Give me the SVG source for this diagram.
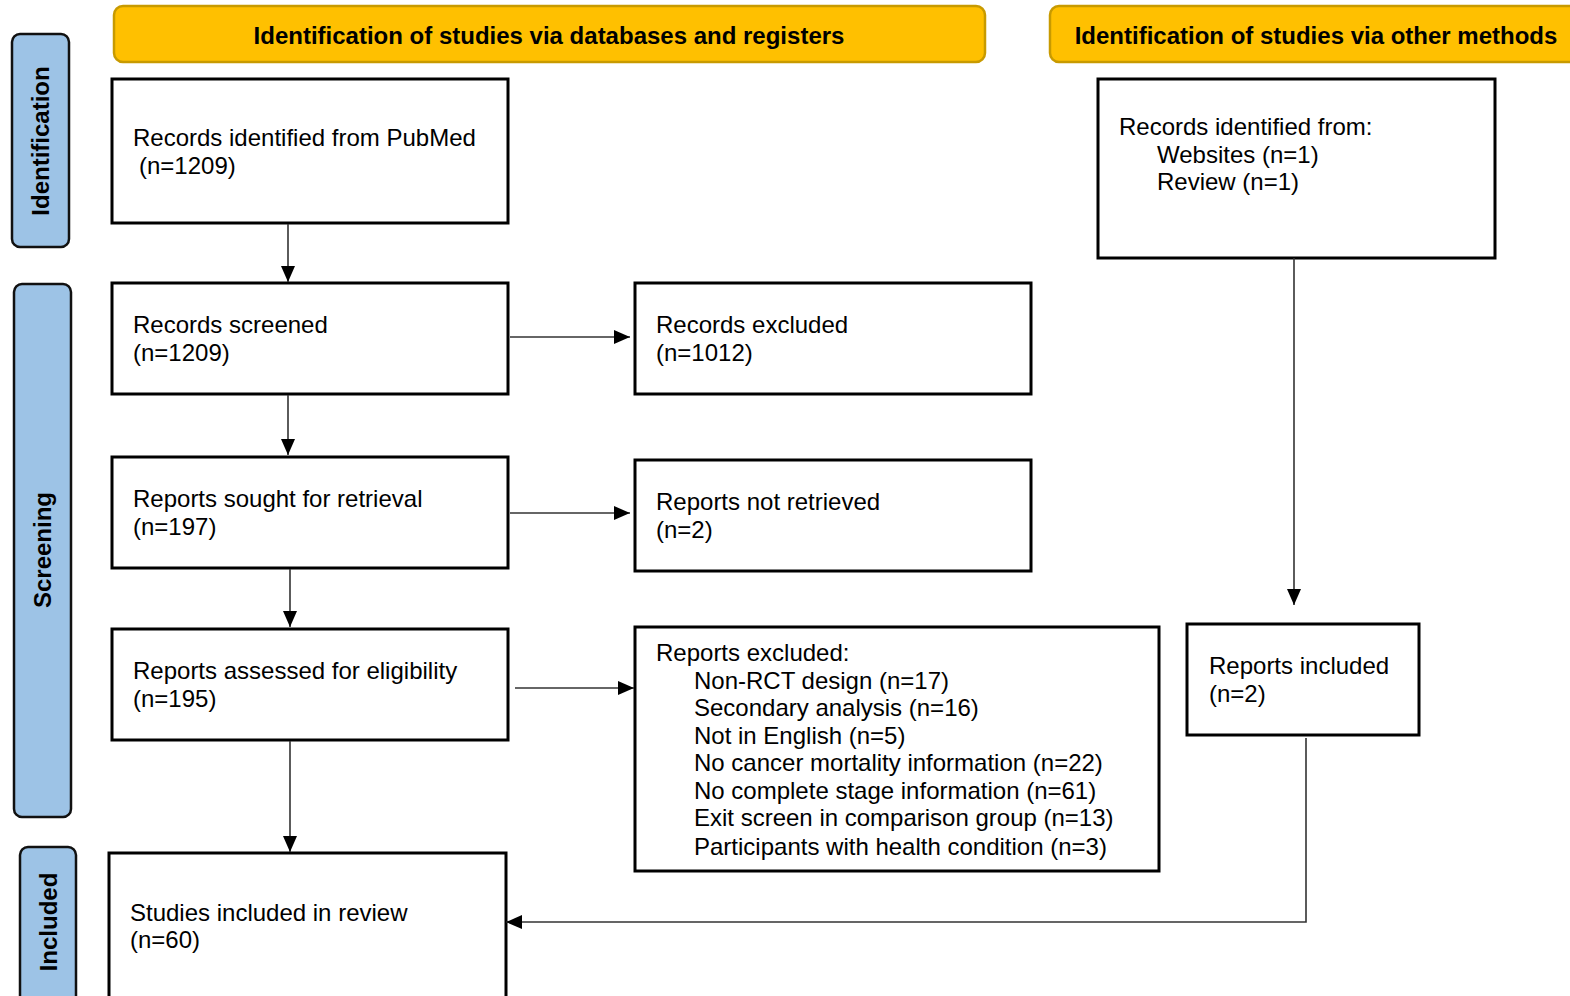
<svg xmlns="http://www.w3.org/2000/svg" width="1570" height="996" viewBox="0 0 1570 996">
<style>
.hdr{fill:#FFC000;stroke:#C89A00;stroke-width:2.5}
.side{fill:#9DC3E6;stroke:#111;stroke-width:2.5}
.box{fill:#fff;stroke:#000;stroke-width:3}
.t{font-family:"Liberation Sans",Arial,sans-serif;font-size:24px;fill:#000}
.b{font-family:"Liberation Sans",Arial,sans-serif;font-size:24px;font-weight:bold;fill:#000}
.c{fill:none;stroke:#333;stroke-width:1.6}
</style>
<defs>
<marker id="ah2" viewBox="0 0 16 14" refX="16" refY="7" markerWidth="16" markerHeight="14" markerUnits="userSpaceOnUse" orient="auto">
<path d="M0,0 L16,7 L0,14 z" fill="#000"/>
</marker>
</defs>
<rect width="1570" height="996" fill="#fff"/>
<g id="header-db"><rect class="hdr" x="114" y="6" width="871" height="56" rx="9"/><text class="b" x="549" y="44" text-anchor="middle">Identification of studies via databases and registers</text></g>
<g id="header-other"><rect class="hdr" x="1050" y="6" width="540" height="56" rx="9"/><text class="b" x="1316" y="44" text-anchor="middle">Identification of studies via other methods</text></g>
<g id="side-identification"><rect class="side" x="12" y="34" width="57" height="213" rx="8"/><text class="b" transform="translate(49,141) rotate(-90)" text-anchor="middle">Identification</text></g>
<g id="side-screening"><rect class="side" x="14" y="284" width="57" height="533" rx="8"/><text class="b" transform="translate(51,550) rotate(-90)" text-anchor="middle">Screening</text></g>
<g id="side-included"><rect class="side" x="20" y="847" width="56" height="160" rx="8"/><text class="b" transform="translate(57,922) rotate(-90)" text-anchor="middle">Included</text></g>

<g id="pubmed"><rect class="box" x="112" y="79" width="396" height="144"/><text class="t" x="133" y="146">Records identified from PubMed</text><text class="t" x="139" y="174">(n=1209)</text></g>
<g id="other"><rect class="box" x="1098" y="79" width="397" height="179"/><text class="t" x="1119" y="135">Records identified from:</text><text class="t" x="1157" y="163">Websites (n=1)</text><text class="t" x="1157" y="190">Review (n=1)</text></g>
<g id="screened"><rect class="box" x="112" y="283" width="396" height="111"/><text class="t" x="133" y="333">Records screened</text><text class="t" x="133" y="361">(n=1209)</text></g>
<g id="rec-excluded"><rect class="box" x="635" y="283" width="396" height="111"/><text class="t" x="656" y="333">Records excluded</text><text class="t" x="656" y="361">(n=1012)</text></g>
<g id="sought"><rect class="box" x="112" y="457" width="396" height="111"/><text class="t" x="133" y="507">Reports sought for retrieval</text><text class="t" x="133" y="535">(n=197)</text></g>
<g id="not-retrieved"><rect class="box" x="635" y="460" width="396" height="111"/><text class="t" x="656" y="510">Reports not retrieved</text><text class="t" x="656" y="538">(n=2)</text></g>
<g id="assessed"><rect class="box" x="112" y="629" width="396" height="111"/><text class="t" x="133" y="679">Reports assessed for eligibility</text><text class="t" x="133" y="707">(n=195)</text></g>
<g id="rep-excluded"><rect class="box" x="635" y="627" width="524" height="244"/>
<text class="t" x="656" y="661">Reports excluded:</text>
<text class="t" x="694" y="689">Non-RCT design (n=17)</text>
<text class="t" x="694" y="716">Secondary analysis (n=16)</text>
<text class="t" x="694" y="744">Not in English (n=5)</text>
<text class="t" x="694" y="771">No cancer mortality information (n=22)</text>
<text class="t" x="694" y="799">No complete stage information (n=61)</text>
<text class="t" x="694" y="826">Exit screen in comparison group (n=13)</text>
<text class="t" x="694" y="855">Participants with health condition (n=3)</text></g>
<g id="rep-included"><rect class="box" x="1187" y="624" width="232" height="111"/><text class="t" x="1209" y="674">Reports included</text><text class="t" x="1209" y="702">(n=2)</text></g>
<g id="studies"><rect class="box" x="109" y="853" width="397" height="160"/><text class="t" x="130" y="921">Studies included in review</text><text class="t" x="130" y="948">(n=60)</text></g>

<g id="connectors">
<line class="c" x1="288" y1="224" x2="288" y2="282" marker-end="url(#ah2)"/>
<line class="c" x1="288" y1="395" x2="288" y2="455" marker-end="url(#ah2)"/>
<line class="c" x1="290" y1="569" x2="290" y2="627" marker-end="url(#ah2)"/>
<line class="c" x1="290" y1="741" x2="290" y2="852" marker-end="url(#ah2)"/>
<line class="c" x1="510" y1="337" x2="630" y2="337" marker-end="url(#ah2)"/>
<line class="c" x1="510" y1="513" x2="630" y2="513" marker-end="url(#ah2)"/>
<line class="c" x1="515" y1="688" x2="634" y2="688" marker-end="url(#ah2)"/>
<line class="c" x1="1294" y1="258" x2="1294" y2="605" marker-end="url(#ah2)"/>
<polyline class="c" points="1306,738 1306,922 506,922" marker-end="url(#ah2)"/>
</g>
</svg>
